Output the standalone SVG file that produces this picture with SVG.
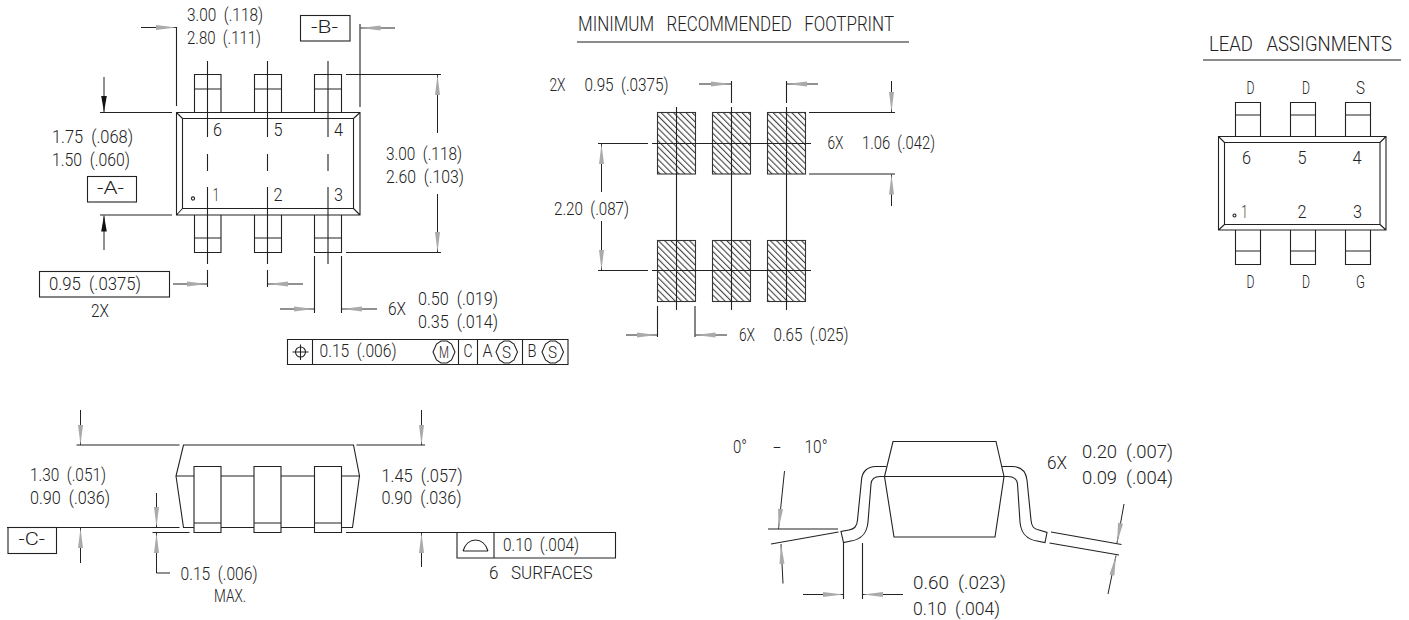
<svg xmlns="http://www.w3.org/2000/svg" width="1409" height="620" viewBox="0 0 1409 620">
<style>
.l{fill:none;stroke:#222;stroke-width:1.1}
.u{fill:none;stroke:#666;stroke-width:1.4}
.d{fill:none;stroke:#222;stroke-width:1;marker-end:url(#g)}
.b{fill:none;stroke:#222;stroke-width:1;marker-end:url(#k)}
.p{fill:url(#h);stroke:#333;stroke-width:1.1}
text{font-family:Roboto,"Liberation Sans",Arial,sans-serif;font-weight:300;font-size:18px;fill:#222;white-space:pre}
.s{font-size:16px}
.m{font-size:20px}
</style>
<defs>
<marker id="g" markerUnits="userSpaceOnUse" markerWidth="24" markerHeight="8" refX="22" refY="4" orient="auto"><polygon points="2,1.500 22,4 2,6.500" fill="#aaa"/></marker>
<marker id="k" markerUnits="userSpaceOnUse" markerWidth="24" markerHeight="8" refX="18" refY="4" orient="auto"><polygon points="2,1.200 18,4 2,6.800" fill="#111"/></marker>
<pattern id="h" width="4.400" height="4.400" patternUnits="userSpaceOnUse" patternTransform="rotate(-45)"><rect width="4.400" height="4.400" fill="#fff"/><rect width="1.100" height="4.400" fill="#444"/></pattern>
</defs>
<rect width="1409" height="620" fill="#fff"/>

<g id="top-view">
<path class="l" d="M176.500 112.500H360V215H176.500ZM182.500 118.500H353.500V208.500H182.500ZM176.500 112.500L182.500 118.500M360 112.500L353.500 118.500M176.500 215L182.500 208.500M360 215L353.500 208.500"/>
<path class="l" d="M194.500 112V74.500H221V112M194.500 89H221M254.500 112V74.500H281.500V112M254.500 89H281.500M314.500 112V74.500H341.500V112M314.500 89H341.500"/>
<path class="l" d="M194.500 215V252.500H221V215M194.500 238H221M254.500 215V252.500H281.500V215M254.500 238H281.500M314.500 215V252.500H341.500V215M314.500 238H341.500"/>
<path class="l" d="M207.500 61V137M207.500 154V171M207.500 187V264M267.500 61V137M267.500 154V171M267.500 187V264M328 61V137M328 154V171M328 187V264"/>
<circle class="l" cx="193" cy="198.500" r="1.600"/>
<text x="213" y="136" textLength="9" lengthAdjust="spacingAndGlyphs">6</text>
<text x="273.500" y="136" textLength="9" lengthAdjust="spacingAndGlyphs">5</text>
<text x="334" y="136" textLength="9" lengthAdjust="spacingAndGlyphs">4</text>
<text x="213" y="201" textLength="6" lengthAdjust="spacingAndGlyphs">1</text>
<text x="273.500" y="201" textLength="9" lengthAdjust="spacingAndGlyphs">2</text>
<text x="334" y="201" textLength="9" lengthAdjust="spacingAndGlyphs">3</text>
<rect class="l" x="87.500" y="176.500" width="49" height="25.500"/>
<text x="97" y="194" textLength="27" lengthAdjust="spacingAndGlyphs">-A-</text>
<rect class="l" x="300.500" y="15.500" width="49.500" height="25.500"/>
<text x="311" y="33" textLength="27" lengthAdjust="spacingAndGlyphs">-B-</text>
<rect class="l" x="39.500" y="271.500" width="130" height="25.500"/>
<text x="49" y="289.500" textLength="92" lengthAdjust="spacingAndGlyphs">0.95  (.0375)</text>
<text x="91" y="317" textLength="18" lengthAdjust="spacingAndGlyphs">2X</text>
<text x="187" y="21" textLength="76" lengthAdjust="spacingAndGlyphs">3.00  (.118)</text>
<text x="187" y="43.500" textLength="74" lengthAdjust="spacingAndGlyphs">2.80  (.111)</text>
<text x="52" y="143" textLength="81" lengthAdjust="spacingAndGlyphs">1.75  (.068)</text>
<text x="52" y="165.500" textLength="78" lengthAdjust="spacingAndGlyphs">1.50  (.060)</text>
<text x="386" y="160" textLength="76" lengthAdjust="spacingAndGlyphs">3.00  (.118)</text>
<text x="386" y="182.500" textLength="78" lengthAdjust="spacingAndGlyphs">2.60  (.103)</text>
<text x="388" y="315" textLength="18" lengthAdjust="spacingAndGlyphs">6X</text>
<text x="418" y="305" textLength="80" lengthAdjust="spacingAndGlyphs">0.50  (.019)</text>
<text x="418" y="328" textLength="80" lengthAdjust="spacingAndGlyphs">0.35  (.014)</text>
</g>

<g id="position-tolerance">
<path class="l" d="M287.500 339.500H568V364.500H287.500ZM312.500 339.500V364.500M458.500 339.500V364.500M477.500 339.500V364.500M522.500 339.500V364.500"/>
<circle class="l" cx="300.500" cy="352" r="5"/>
<path class="l" d="M292.500 352H308.500M300.500 344.500V360"/>
<text x="319.500" y="357" textLength="77" lengthAdjust="spacingAndGlyphs">0.15  (.006)</text>
<polygon class="l" points="433,352 436.500,344 441,341 447,341 451.500,344 455,352 451.500,360 447,363 441,363 436.500,360"/>
<text class="s" x="439" y="357.500" textLength="10" lengthAdjust="spacingAndGlyphs">M</text>
<text x="463.500" y="357" textLength="9" lengthAdjust="spacingAndGlyphs">C</text>
<text x="482.500" y="357" textLength="10" lengthAdjust="spacingAndGlyphs">A</text>
<polygon class="l" points="496,352 499.500,344 504,341 509.500,341 514,344 517.500,352 514,360 509.500,363 504,363 499.500,360"/>
<text class="s" x="502" y="357.500" textLength="9" lengthAdjust="spacingAndGlyphs">S</text>
<text x="527.500" y="357" textLength="9" lengthAdjust="spacingAndGlyphs">B</text>
<polygon class="l" points="542,352 545.500,344 550,341 555.500,341 560,344 563.500,352 560,360 555.500,363 550,363 545.500,360"/>
<text class="s" x="548" y="357.500" textLength="9" lengthAdjust="spacingAndGlyphs">S</text>
</g>

<g id="footprint">
<path class="u" d="M577 42H909"/>
<text class="m" x="578" y="31" textLength="316" lengthAdjust="spacingAndGlyphs">MINIMUM   RECOMMENDED   FOOTPRINT</text>
<rect class="p" x="657.500" y="112.500" width="38" height="61.500"/>
<rect class="p" x="712.500" y="112.500" width="38" height="61.500"/>
<rect class="p" x="767.500" y="112.500" width="38" height="61.500"/>
<rect class="p" x="657.500" y="240.500" width="38" height="61"/>
<rect class="p" x="712.500" y="240.500" width="38" height="61"/>
<rect class="p" x="767.500" y="240.500" width="38" height="61"/>
<path class="l" d="M676.500 107V310M731.500 107V310M786.500 107V310M652 143.500H811M652 270.500H811"/>
<text x="549.500" y="91" textLength="16" lengthAdjust="spacingAndGlyphs">2X</text>
<text x="584.500" y="91" textLength="84" lengthAdjust="spacingAndGlyphs">0.95  (.0375)</text>
<text x="827.500" y="149" textLength="16" lengthAdjust="spacingAndGlyphs">6X</text>
<text x="862" y="149" textLength="73" lengthAdjust="spacingAndGlyphs">1.06  (.042)</text>
<text x="554" y="214.500" textLength="75" lengthAdjust="spacingAndGlyphs">2.20  (.087)</text>
<text x="739" y="341" textLength="16" lengthAdjust="spacingAndGlyphs">6X</text>
<text x="773.500" y="341" textLength="75" lengthAdjust="spacingAndGlyphs">0.65  (.025)</text>
</g>

<g id="lead-assignments">
<path class="u" d="M1203 60H1401"/>
<text class="m" x="1209" y="50.500" textLength="183" lengthAdjust="spacingAndGlyphs">LEAD   ASSIGNMENTS</text>
<path class="l" d="M1218.500 136.500H1386V230H1218.500ZM1224.500 142.500H1380V224.500H1224.500ZM1218.500 136.500L1224.500 142.500M1386 136.500L1380 142.500M1218.500 230L1224.500 224.500M1386 230L1380 224.500"/>
<path class="l" d="M1235.500 136V102.500H1260.500V136M1235.500 115H1260.500M1290.500 136V102.500H1315.500V136M1290.500 115H1315.500M1345.500 136V102.500H1370.500V136M1345.500 115H1370.500"/>
<path class="l" d="M1235.500 230V264.500H1260.500V230M1235.500 251H1260.500M1290.500 230V264.500H1315.500V230M1290.500 251H1315.500M1345.500 230V264.500H1370.500V230M1345.500 251H1370.500"/>
<circle class="l" cx="1234.500" cy="215.500" r="1.500"/>
<text x="1246.500" y="93.500" textLength="8" lengthAdjust="spacingAndGlyphs">D</text>
<text x="1302" y="93.500" textLength="8" lengthAdjust="spacingAndGlyphs">D</text>
<text x="1356" y="93.500" textLength="9" lengthAdjust="spacingAndGlyphs">S</text>
<text x="1242" y="164" textLength="9" lengthAdjust="spacingAndGlyphs">6</text>
<text x="1297.500" y="164" textLength="9" lengthAdjust="spacingAndGlyphs">5</text>
<text x="1352.500" y="164" textLength="9" lengthAdjust="spacingAndGlyphs">4</text>
<text x="1241.500" y="217.500" textLength="6" lengthAdjust="spacingAndGlyphs">1</text>
<text x="1297.500" y="217.500" textLength="9" lengthAdjust="spacingAndGlyphs">2</text>
<text x="1353" y="217.500" textLength="9" lengthAdjust="spacingAndGlyphs">3</text>
<text x="1246.500" y="287.500" textLength="8" lengthAdjust="spacingAndGlyphs">D</text>
<text x="1302" y="287.500" textLength="8" lengthAdjust="spacingAndGlyphs">D</text>
<text x="1356" y="287.500" textLength="9" lengthAdjust="spacingAndGlyphs">G</text>
</g>

<g id="side-view">
<path class="l" d="M194 476H176L183.500 445H353.500L359.500 476H341.500M176 476L183.500 527.500H194M359.500 476L352.500 527.500H341.500M221 476H254M281 476H314.500M221 527.500H254M281 527.500H314.500"/>
<path class="l" d="M194 466.500H221V532.500H194ZM194 523H221M254 466.500H281V532.500H254ZM254 523H281M314.500 466.500H341.500V532.500H314.500ZM314.500 523H341.500"/>
<rect class="l" x="8" y="527.500" width="48.500" height="26"/>
<text x="18.500" y="544.500" textLength="26.500" lengthAdjust="spacingAndGlyphs">-C-</text>
<path class="l" d="M457 532.500H615.500V558H457ZM494 532.500V558"/>
<path class="l" d="M463 551H488M463 551C465 544 470 540 475.500 540C481 540 486 544 488 551"/>
<text x="503" y="550.500" textLength="76" lengthAdjust="spacingAndGlyphs">0.10  (.004)</text>
<text x="489" y="579" textLength="103.500" lengthAdjust="spacingAndGlyphs">6   SURFACES</text>
<text x="30" y="481" textLength="76" lengthAdjust="spacingAndGlyphs">1.30  (.051)</text>
<text x="30" y="503.500" textLength="80" lengthAdjust="spacingAndGlyphs">0.90  (.036)</text>
<text x="381.500" y="481.500" textLength="81" lengthAdjust="spacingAndGlyphs">1.45  (.057)</text>
<text x="381.500" y="504" textLength="80" lengthAdjust="spacingAndGlyphs">0.90  (.036)</text>
<text x="180.500" y="580" textLength="77" lengthAdjust="spacingAndGlyphs">0.15  (.006)</text>
<text x="214" y="602" textLength="32" lengthAdjust="spacingAndGlyphs">MAX.</text>
</g>

<g id="end-view">
<path class="l" d="M893 441.500H996L1004 476.500L995 537H894L884.500 476.500ZM884.500 476.500H1004"/>
<path class="l" d="M886.500 466.500H876C867 466.500 862 472 861.500 480L857.500 520C857 527 854 529 849 530L841 531.500L843.500 542.500L851 541C863 539 867 532 868 522L871 484C871.500 479 875 476.500 880 476.500H885"/>
<path class="l" d="M1002 466.500H1012C1021 466.500 1026 472 1027 480L1031 520C1031.500 527 1034 529 1039 530L1047 532.500L1045 542.500L1037 541C1025 539 1021 532 1020 522L1017.500 484C1017 479 1013 476.500 1008 476.500H1004"/>
<text x="733" y="452.500" textLength="14" lengthAdjust="spacingAndGlyphs">0°</text>
<text x="773" y="452.500" textLength="8" lengthAdjust="spacingAndGlyphs">-</text>
<text x="804.500" y="452.500" textLength="23" lengthAdjust="spacingAndGlyphs">10°</text>
<text x="1047" y="469" textLength="20" lengthAdjust="spacingAndGlyphs">6X</text>
<text x="1082" y="457.500" textLength="91" lengthAdjust="spacingAndGlyphs">0.20  (.007)</text>
<text x="1082" y="483.500" textLength="91" lengthAdjust="spacingAndGlyphs">0.09  (.004)</text>
<text x="913" y="588.500" textLength="93" lengthAdjust="spacingAndGlyphs">0.60  (.023)</text>
<text x="913" y="615" textLength="87" lengthAdjust="spacingAndGlyphs">0.10  (.004)</text>
</g>

<g id="connectors">
<path class="l" d="M176.500 27V106M360 24V107M100 112.500H172M100 215H172M346 74.500H441M346 252.500H441M314.500 256V313M341.500 256V313M207.500 270V287M267.500 270V287"/>
<path class="d" d="M141 27.500H176"/>
<path class="d" d="M395 28H360.500"/>
<path class="b" d="M104 77V112"/>
<path class="b" d="M104 250V215.500"/>
<path class="d" d="M437.500 133V75"/>
<path class="d" d="M437.500 194V252"/>
<path class="d" d="M173 284H207"/>
<path class="d" d="M303 284H268"/>
<path class="d" d="M280 309H314"/>
<path class="d" d="M377 309H342"/>

<path class="l" d="M731.500 81V103M786.500 81V103M809 112.500H895M809 174H895M598 143.500H648M598 270.500H648M657.500 306V337M695 306V337"/>
<path class="d" d="M699 84H731"/>
<path class="d" d="M818 84H787"/>
<path class="d" d="M891.500 81V112"/>
<path class="d" d="M891.500 206V174.500"/>
<path class="d" d="M601.500 192V144"/>
<path class="d" d="M601.500 221V270"/>
<path class="d" d="M626 335H657"/>
<path class="d" d="M727 335H695.500"/>

<path class="l" d="M76.500 445H179.500M356.500 445H425M7 527.500H179.500M152.500 532.500H189.500M346 532.500H457"/>
<path class="d" d="M80.500 410V445"/>
<path class="d" d="M421.500 410V445"/>
<path class="d" d="M80.500 563V528"/>
<path class="d" d="M421.500 567V533"/>
<path class="d" d="M156.500 493V527"/>
<path class="d" d="M170 573H156.500V533"/>

<path class="l" d="M768 529H838M771 544L838.500 532M1051 532L1121.500 544.500M1049.500 543L1119 555M843.500 542V599M862.500 543V599"/>
<path class="d" d="M784.500 471L778.500 529"/>
<path class="d" d="M783 583.500L781 544"/>
<path class="d" d="M803 594.500H843"/>
<path class="d" d="M903 594.500H863"/>
<path class="d" d="M1124 504L1117 543"/>
<path class="d" d="M1108 594L1116 555.500"/>
</g>
</svg>
